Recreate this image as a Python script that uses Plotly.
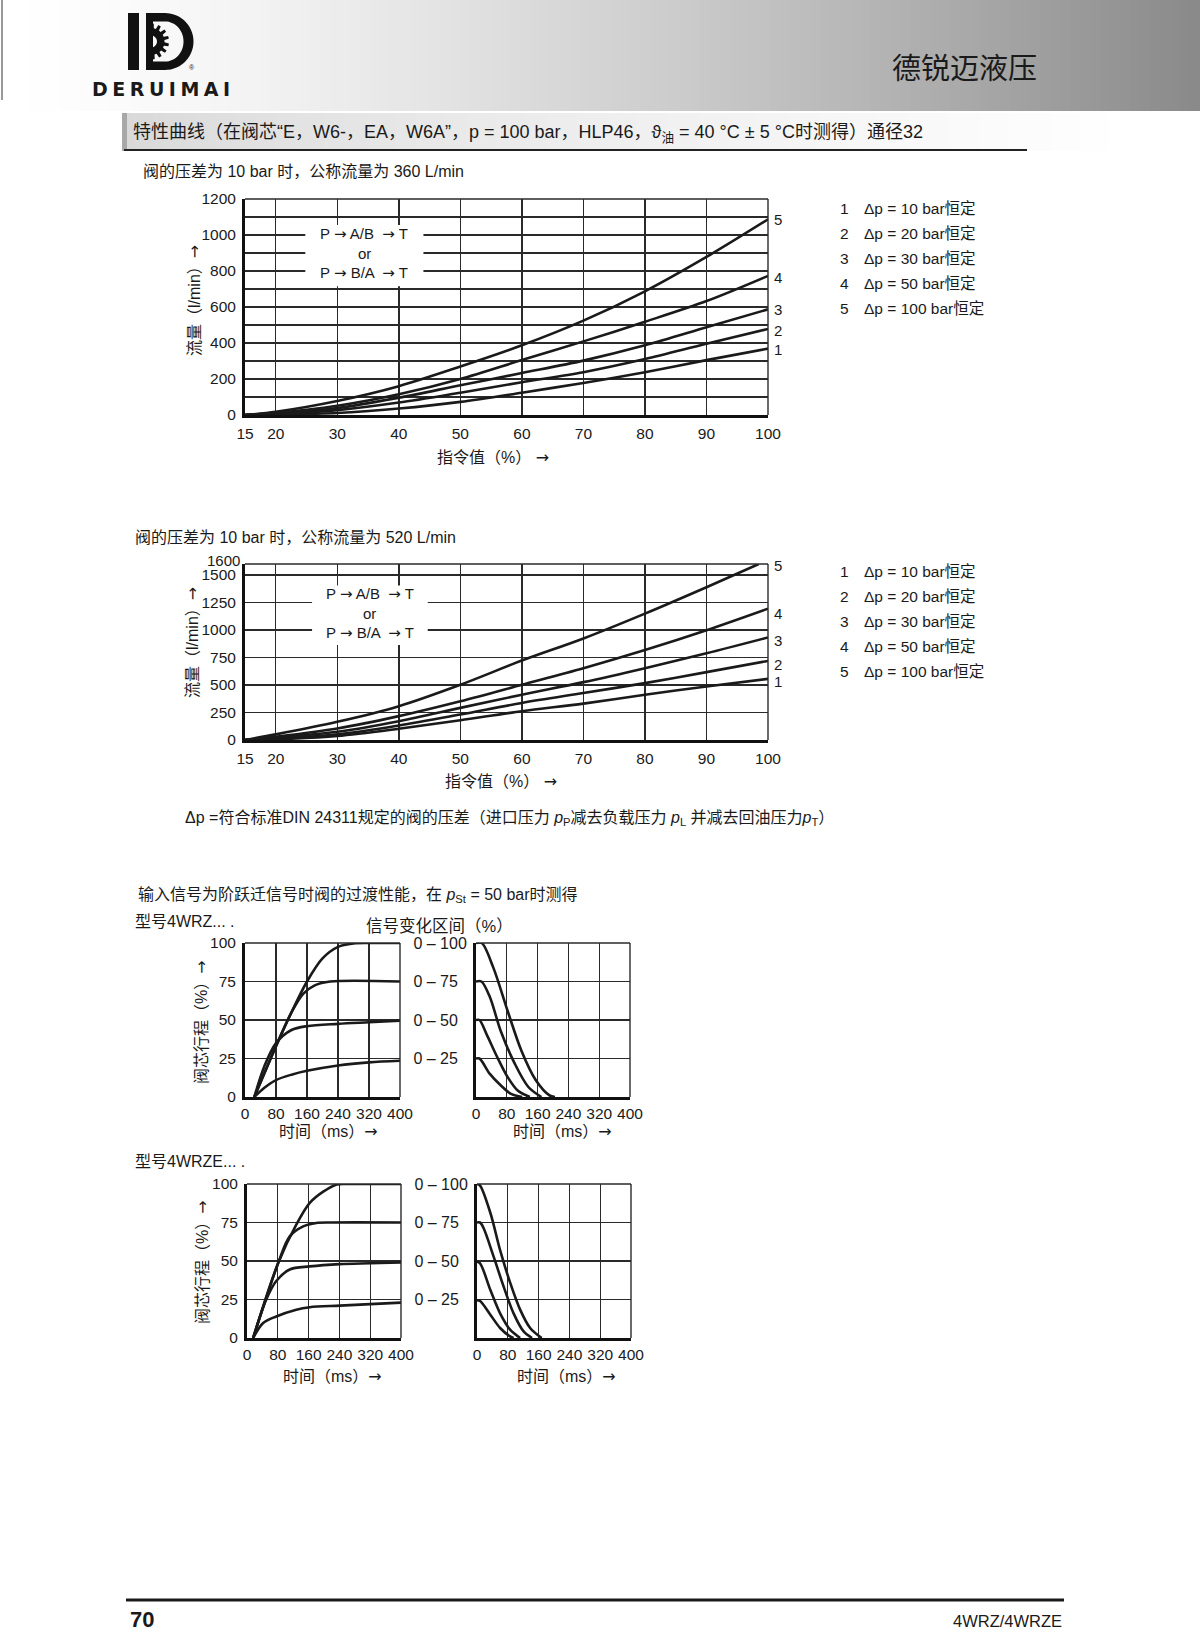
import plotly.graph_objects as go
import math

W, H = 1200, 1644

# ---------------- data ----------------
cmd_pct = [15, 20, 30, 40, 50, 60, 70, 80, 90, 100]
flow360_dp10 = [0, 3, 11, 36, 73, 124, 178, 238, 305, 369]
flow360_dp20 = [0, 5, 27, 69, 124, 182, 238, 311, 396, 478]
flow360_dp30 = [0, 7, 38, 96, 165, 233, 302, 387, 487, 587]
flow360_dp50 = [0, 11, 51, 115, 200, 305, 409, 518, 633, 773]
flow360_dp100 = [0, 18, 78, 160, 269, 387, 524, 687, 878, 1087]
label360_y = [364, 469, 587, 764, 1087]

cmd_pct_5 = [15, 20, 30, 40, 50, 60, 70, 80, 90, 98.5]
flow520_dp10 = [0, 6, 36, 102, 180, 262, 331, 412, 487, 556]
flow520_dp20 = [0, 12, 51, 132, 232, 337, 427, 517, 617, 719]
flow520_dp30 = [0, 21, 75, 171, 292, 412, 526, 653, 788, 932]
flow520_dp50 = [0, 30, 105, 217, 352, 502, 653, 818, 998, 1194]
flow520_dp100 = [0, 51, 165, 307, 502, 722, 923, 1149, 1389, 1600]
label520_y = [532, 683, 902, 1149, 1585]

curve_ids = ["1", "2", "3", "4", "5"]
legend_txt = ["Δp = 10 bar恒定", "Δp = 20 bar恒定", "Δp = 30 bar恒定",
              "Δp = 50 bar恒定", "Δp = 100 bar恒定"]

# step response 4WRZ (opening)
wrz_on_100_t = [24, 80, 120, 160, 200, 240, 280, 320, 400]
wrz_on_100_y = [0, 33, 55, 75, 90, 97.5, 99.7, 100, 100]
wrz_on_75_t = [24, 80, 120, 150, 180, 220, 400]
wrz_on_75_y = [0, 33, 55, 67, 72.5, 75, 75]
wrz_on_50_t = [24, 50, 80, 120, 160, 240, 320, 400]
wrz_on_50_y = [0, 20, 35, 43.5, 46, 47.5, 48.5, 49.5]
wrz_on_25_t = [24, 50, 80, 120, 160, 240, 320, 400]
wrz_on_25_y = [0, 6, 11, 14.5, 17, 20.5, 22.5, 23.5]
# 4WRZ (closing)
wrz_off_100_t = [0, 15, 45, 82, 118, 155, 191, 205]
wrz_off_100_y = [100, 100, 84, 56, 30, 11, 1, 0]
wrz_off_75_t = [0, 14, 36, 64, 100, 136, 170]
wrz_off_75_y = [75, 75, 65, 43, 22, 6.5, 0]
wrz_off_50_t = [0, 9, 27, 55, 82, 109, 140]
wrz_off_50_y = [50, 50, 41, 26, 13, 4, 0]
wrz_off_25_t = [0, 9, 36, 64, 91, 120]
wrz_off_25_y = [25, 25, 15, 7.6, 2, 0]

# 4WRZE (opening)
wrze_on_100_t = [16, 81, 128, 163, 198, 233, 260, 400]
wrze_on_100_y = [0, 48.7, 73.6, 87.7, 95, 99.6, 100, 100]
wrze_on_75_t = [16, 81, 111, 146, 180, 220, 400]
wrze_on_75_y = [0, 48.7, 66, 72.5, 74.7, 75, 75]
wrze_on_50_t = [16, 50, 76, 111, 163, 241, 320, 400]
wrze_on_50_y = [0, 25, 37, 44.5, 46.5, 48, 48.5, 49]
wrze_on_25_t = [16, 42, 76, 128, 163, 241, 320, 400]
wrze_on_25_y = [0, 9.7, 14, 18.4, 20, 21, 22, 23]
# 4WRZE (closing)
wrze_off_100_t = [0, 8, 35, 60, 86, 112, 138, 168]
wrze_off_100_y = [100, 99, 81, 57, 36, 18.4, 6.5, 0]
wrze_off_75_t = [0, 8, 17, 43, 69, 95, 121, 143]
wrze_off_75_y = [75, 75, 71.4, 53, 33.5, 16, 4.3, 0]
wrze_off_50_t = [0, 8, 35, 60, 86, 112]
wrze_off_50_y = [49.5, 48.5, 31, 16, 5.4, 0]
wrze_off_25_t = [0, 8, 35, 60, 86, 95]
wrze_off_25_y = [24.5, 24, 15, 6.5, 1, 0]

range_labels = ["0 – 25", "0 – 50", "0 – 75", "0 – 100"]
time_ticks = [0, 80, 160, 240, 320, 400]
stroke_ticks = [0, 25, 50, 75, 100]
pct_ticks = [15, 20, 30, 40, 50, 60, 70, 80, 90, 100]
flow360_ticks = [0, 200, 400, 600, 800, 1000, 1200]
flow360_minor = [100, 300, 500, 700, 900, 1100]
flow520_ticks = [0, 250, 500, 750, 1000, 1250, 1500]

# ---------------- helpers ----------------
def px(x):
    return x / W

def py(y):
    return 1 - y / H

LAT = "Liberation Sans, Arial, Noto Sans CJK SC"
NAR = "Liberation Sans Narrow, Liberation Sans, Noto Sans CJK SC"
INK = "#1a1a1a"
GRID = "#2a2a2a"
ARROW = '<span style="font-family:DejaVu Sans">→</span>'

fig = go.Figure()
annotations = []
shapes = []

def txt(x, y, text, size=15, xanchor="left", yanchor="middle", family=LAT,
        angle=0, color=INK, **kw):
    annotations.append(dict(x=px(x), y=py(y), xref="paper", yref="paper",
                            text=text, showarrow=False, xanchor=xanchor,
                            yanchor=yanchor, textangle=angle,
                            font=dict(size=size, family=family, color=color), **kw))

def dom_x(a, b):
    return [px(a), px(b)]

def dom_y(top, bottom):
    return [py(bottom), py(top)]

def add_line(xs, ys, k):
    xa = "x" if k == 1 else f"x{k}"
    ya = "y" if k == 1 else f"y{k}"
    fig.add_trace(go.Scatter(x=xs, y=ys, mode="lines", xaxis=xa, yaxis=ya,
                             line=dict(color=INK, width=2.6, shape="spline",
                                       smoothing=0.9),
                             showlegend=False, hoverinfo="skip", cliponaxis=True))

def frame(k):
    xa = "x" if k == 1 else f"x{k}"
    ya = "y" if k == 1 else f"y{k}"
    shapes.append(dict(type="line", xref=f"{xa} domain", yref=f"{ya} domain",
                       x0=0, x1=1, y0=1, y1=1, line=dict(color=GRID, width=1.4)))
    shapes.append(dict(type="line", xref=f"{xa} domain", yref=f"{ya} domain",
                       x0=1, x1=1, y0=0, y1=1, line=dict(color=GRID, width=1.4)))

# ---------------- page decorations ----------------
n = 120
for i in range(n):
    t = (i + 0.5) / n
    g = int(round(255 - 118 * (t ** 1.45)))
    shapes.append(dict(type="rect", xref="paper", yref="paper",
                       x0=px(i * W / n), x1=px((i + 1) * W / n + 0.6),
                       y0=py(111), y1=py(0), line=dict(width=0),
                       fillcolor=f"rgb({g},{g},{g})", layer="below"))
m = 100
x_start, x_end = 124, 1130
for i in range(m):
    t = (i + 0.5) / m
    g = int(round(216 + 39 * (t ** 0.75)))
    x0 = x_start + (x_end - x_start) * i / m
    x1 = x_start + (x_end - x_start) * (i + 1) / m + 0.6
    shapes.append(dict(type="rect", xref="paper", yref="paper",
                       x0=px(x0), x1=px(x1), y0=py(151), y1=py(113),
                       line=dict(width=0), fillcolor=f"rgb({g},{g},{g})", layer="below"))
shapes.append(dict(type="rect", xref="paper", yref="paper", x0=px(122), x1=px(127),
                   y0=py(151), y1=py(113), line=dict(width=0), fillcolor="#a8a8a8",
                   layer="below"))
shapes.append(dict(type="line", xref="paper", yref="paper", x0=px(124), x1=px(1027),
                   y0=py(150), y1=py(150), line=dict(color="#222", width=2)))
shapes.append(dict(type="line", xref="paper", yref="paper", x0=px(2), x1=px(2),
                   y0=py(0), y1=py(100), line=dict(color="#777", width=1.5)))
shapes.append(dict(type="line", xref="paper", yref="paper", x0=px(126), x1=px(1064),
                   y0=py(1600), y1=py(1600), line=dict(color="#1a1a1a", width=3)))

# logo
def ppath(points_list):
    parts = []
    for pts in points_list:
        s = "M " + " L ".join(f"{px(x):.5f},{py(y):.5f}" for x, y in pts) + " Z"
        parts.append(s)
    return " ".join(parts)

shapes.append(dict(type="path", xref="paper", yref="paper",
                   path=ppath([[(128, 13), (139, 13), (139, 70), (128, 70)]]),
                   fillcolor="#111", line=dict(width=0)))
outer = [(146, 13)]
cx, cy, r_o, r_i = 165, 41.5, 28.5, 19.5
for a in range(-90, 91, 6):
    outer.append((cx + r_o * math.cos(math.radians(a)),
                  cy + r_o * math.sin(math.radians(a))))
outer += [(146, 70)]
inner = [(153, 21.5)]
for a in range(-90, 91, 6):
    inner.append((cx + r_i * math.cos(math.radians(a)) * 0.95,
                  cy + r_i * math.sin(math.radians(a)) * 1.03))
inner += [(153, 61.5)]
shapes.append(dict(type="path", xref="paper", yref="paper",
                   path=ppath([outer, inner[::-1]]),
                   fillcolor="#111", line=dict(width=0)))
gear = []
gx, gy = 151, 41.5
for a in range(-90, 91, 3):
    k = (a + 90) // 3
    rr = 18 if (k // 4) % 2 == 0 else 13.5
    gear.append((gx + rr * math.cos(math.radians(a)), gy + rr * math.sin(math.radians(a))))
hole = []
for a in range(-90, 91, 10):
    hole.append((gx + 6 * math.cos(math.radians(a)), gy + 6 * math.sin(math.radians(a))))
shapes.append(dict(type="path", xref="paper", yref="paper",
                   path=ppath([gear, hole[::-1]]),
                   fillcolor="#111", line=dict(width=0)))
txt(192, 67, "®", size=7, xanchor="center")
txt(90, 89, '<b><span style="letter-spacing:4.5px">DERUIMAI</span></b>', size=19,
    xanchor="left", family="DejaVu Sans, Liberation Sans")

# header texts
txt(964, 66, "德锐迈液压", size=29, xanchor="center", family="Noto Sans CJK SC")
txt(131, 133,
    "特性曲线（在阀芯“E，W6-，EA，W6A”，p = 100 bar，HLP46，ϑ<sub>油</sub> = 40 °C ± 5 °C时测得）通径32",
    size=18, family=NAR)

# ---------------- chart 1 ----------------
for ys in [flow360_dp10, flow360_dp20, flow360_dp30, flow360_dp50, flow360_dp100]:
    add_line(cmd_pct, ys, 1)
txt(141, 172, "阀的压差为 10 bar 时，公称流量为 360 L/min", size=16)
txt(194, 300, "流量（l/min）" + ARROW, size=16, xanchor="center", angle=-90)
txt(493, 458, "指令值（%） " + ARROW, size=16, xanchor="center")
for cid, yv in zip(curve_ids, label360_y):
    annotations.append(dict(x=100, y=yv, xref="x", yref="y", text=cid, showarrow=False,
                            xanchor="left", xshift=4, font=dict(size=15, family=LAT, color=INK)))
shapes.append(dict(type="rect", xref="x", yref="y", x0=24.8, x1=44, y0=715, y1=1056,
                   fillcolor="white", line=dict(width=0), layer="above"))
PAB = "P " + ARROW + " A/B  " + ARROW + " T"
PBA = "P " + ARROW + " B/A  " + ARROW + " T"
for t_, yv in [(PAB, 1005), ("or", 896), (PBA, 791)]:
    annotations.append(dict(x=34.4, y=yv, xref="x", yref="y", text=t_, showarrow=False,
                            xanchor="center", font=dict(size=15, family=LAT, color=INK)))
for i, (cid, lt) in enumerate(zip(curve_ids, legend_txt)):
    yy = 208.5 + i * 25.1
    txt(838, yy, cid, size=15.5)
    txt(862, yy, lt, size=15.5)

# ---------------- chart 2 ----------------
for xs, ys in [(cmd_pct, flow520_dp10), (cmd_pct, flow520_dp20), (cmd_pct, flow520_dp30),
               (cmd_pct, flow520_dp50), (cmd_pct_5, flow520_dp100)]:
    add_line(xs, ys, 2)
txt(133, 537, "阀的压差为 10 bar 时，公称流量为 520 L/min", size=16)
txt(192, 643, "流量（l/min）" + ARROW, size=16, xanchor="center", angle=-90)
txt(501, 781, "指令值（%） " + ARROW, size=16, xanchor="center")
for cid, yv in zip(curve_ids, label520_y):
    annotations.append(dict(x=100, y=yv, xref="x2", yref="y2", text=cid, showarrow=False,
                            xanchor="left", xshift=4, font=dict(size=15, family=LAT, color=INK)))
annotations.append(dict(x=0, y=1600, xref="x2 domain", yref="y2", text="1600", showarrow=False,
                        xanchor="right", xshift=-3, yshift=4,
                        font=dict(size=15, family=LAT, color=INK)))
shapes.append(dict(type="rect", xref="x2", yref="y2", x0=25.9, x1=44.7, y0=863, y1=1404,
                   fillcolor="white", line=dict(width=0), layer="above"))
for t_, yv in [(PAB, 1329), ("or", 1149), (PBA, 974)]:
    annotations.append(dict(x=35.3, y=yv, xref="x2", yref="y2", text=t_, showarrow=False,
                            xanchor="center", font=dict(size=15, family=LAT, color=INK)))
for i, (cid, lt) in enumerate(zip(curve_ids, legend_txt)):
    yy = 571 + i * 25.2
    txt(838, yy, cid, size=15.5)
    txt(862, yy, lt, size=15.5)

txt(183, 818,
    "Δp =符合标准DIN 24311规定的阀的压差（进口压力 <i>p</i><sub>P</sub>减去负载压力 <i>p</i><sub>L</sub> 并减去回油压力<i>p</i><sub>T</sub>）",
    size=16)

# ---------------- transient charts ----------------
txt(136, 895, "输入信号为阶跃迁信号时阀的过渡性能，在 <i>p</i><sub>St</sub> = 50 bar时测得", size=16)
txt(133, 921, "型号4WRZ... .", size=16)
txt(440, 926, "信号变化区间（%）", size=16.5, xanchor="center")
txt(133, 1161, "型号4WRZE... .", size=16)

for t_, y_ in [(wrz_on_100_t, wrz_on_100_y), (wrz_on_75_t, wrz_on_75_y),
               (wrz_on_50_t, wrz_on_50_y), (wrz_on_25_t, wrz_on_25_y)]:
    add_line(t_, y_, 3)
for t_, y_ in [(wrz_off_100_t, wrz_off_100_y), (wrz_off_75_t, wrz_off_75_y),
               (wrz_off_50_t, wrz_off_50_y), (wrz_off_25_t, wrz_off_25_y)]:
    add_line(t_, y_, 4)
for t_, y_ in [(wrze_on_100_t, wrze_on_100_y), (wrze_on_75_t, wrze_on_75_y),
               (wrze_on_50_t, wrze_on_50_y), (wrze_on_25_t, wrze_on_25_y)]:
    add_line(t_, y_, 5)
for t_, y_ in [(wrze_off_100_t, wrze_off_100_y), (wrze_off_75_t, wrze_off_75_y),
               (wrze_off_50_t, wrze_off_50_y), (wrze_off_25_t, wrze_off_25_y)]:
    add_line(t_, y_, 6)

txt(202, 1022, "阀芯行程（%）" + ARROW, size=16, xanchor="center", angle=-90)
txt(202, 1262, "阀芯行程（%）" + ARROW, size=16, xanchor="center", angle=-90)
txt(328, 1131, "时间（ms）" + ARROW, size=16, xanchor="center")
txt(562, 1131, "时间（ms）" + ARROW, size=16, xanchor="center")
txt(332, 1376, "时间（ms）" + ARROW, size=16, xanchor="center")
txt(566, 1376, "时间（ms）" + ARROW, size=16, xanchor="center")

# footer
txt(128, 1619, "<b>70</b>", size=22, family=NAR)
txt(1064, 1621, "4WRZ/4WRZE", size=16.5, xanchor="right", family=NAR)

# ---------------- axes ----------------
tickfont = dict(size=15.5, family=LAT, color=INK)

def xaxis_cfg(domain, rng, tickvals, anchor, standoff=2):
    return dict(domain=domain, range=rng, tickvals=tickvals, showgrid=True,
                gridcolor=GRID, gridwidth=1.4, showline=True, linecolor="#111",
                linewidth=3, ticks="", tickfont=tickfont, zeroline=False,
                anchor=anchor, fixedrange=True, ticklabelstandoff=standoff,
                automargin=False)

def yaxis_cfg(domain, rng, tickvals, anchor, ticktext=None, minor=None):
    d = dict(domain=domain, range=rng, tickvals=tickvals, showgrid=True,
             gridcolor=GRID, gridwidth=1.4, showline=True, linecolor="#111",
             linewidth=3, ticks="", tickfont=tickfont, zeroline=False,
             anchor=anchor, fixedrange=True, ticklabelstandoff=3, automargin=False)
    if ticktext is not None:
        d["ticktext"] = ticktext
    if minor is not None:
        d["minor"] = minor
    return d

pad = lambda s: s + ("\u00a0\u00a0" if len(s) < 7 else "")
layout_axes = {}
layout_axes["xaxis"] = xaxis_cfg(dom_x(245, 768), [15, 100], pct_ticks, "y")
layout_axes["yaxis"] = yaxis_cfg(dom_y(199, 415), [0, 1200], flow360_ticks, "x",
                                 minor=dict(tickvals=flow360_minor, showgrid=True,
                                            gridcolor=GRID, gridwidth=1.4, ticks=""))
layout_axes["xaxis2"] = xaxis_cfg(dom_x(245, 768), [15, 100], pct_ticks, "y2")
layout_axes["yaxis2"] = yaxis_cfg(dom_y(564, 740), [0, 1600], flow520_ticks, "x2",
                                  minor=dict(tickvals=[1600], showgrid=True,
                                             gridcolor=GRID, gridwidth=1.4, ticks=""))
layout_axes["xaxis3"] = xaxis_cfg(dom_x(245, 400), [0, 400], time_ticks, "y3", 0)
layout_axes["yaxis3"] = yaxis_cfg(dom_y(943, 1097), [0, 100], stroke_ticks, "x3")
layout_axes["xaxis4"] = xaxis_cfg(dom_x(476, 630), [0, 400], time_ticks, "y4", 0)
layout_axes["yaxis4"] = yaxis_cfg(dom_y(943, 1097), [0, 100], [25, 50, 75, 100], "x4",
                                  ticktext=[pad(s) for s in range_labels])
layout_axes["xaxis5"] = xaxis_cfg(dom_x(247, 401), [0, 400], time_ticks, "y5", 0)
layout_axes["yaxis5"] = yaxis_cfg(dom_y(1184, 1338), [0, 100], stroke_ticks, "x5")
layout_axes["xaxis6"] = xaxis_cfg(dom_x(477, 631), [0, 400], time_ticks, "y6", 0)
layout_axes["yaxis6"] = yaxis_cfg(dom_y(1184, 1338), [0, 100], [25, 50, 75, 100], "x6",
                                  ticktext=[pad(s) for s in range_labels])
for k in ("yaxis4", "yaxis6"):
    layout_axes[k]["ticklabelstandoff"] = 3
    layout_axes[k]["tickfont"] = dict(size=16, family=LAT, color=INK)

for k in range(1, 7):
    frame(k)

fig.update_layout(width=W, height=H,
                  margin=dict(l=0, r=0, t=0, b=0, pad=0, autoexpand=False),
                  paper_bgcolor="white", plot_bgcolor="white",
                  showlegend=False, annotations=annotations, shapes=shapes,
                  **layout_axes)

post = """
var de = document.documentElement, b = document.body;
de.style.margin='0'; de.style.padding='0'; de.style.overflow='hidden';
b.style.margin='0'; b.style.padding='0'; b.style.overflow='hidden';
"""
fig.write_html("out.html", config={"displayModeBar": False, "staticPlot": True},
               post_script=post)
